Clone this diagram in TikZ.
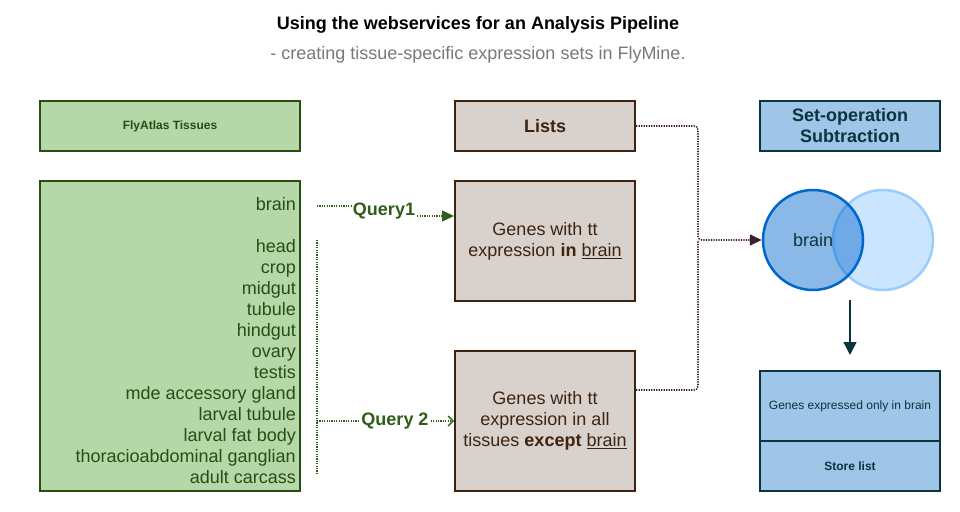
\documentclass[tikz,border=0pt]{standalone}
\usepackage{fontspec}
\setmainfont{Liberation Sans}
\usepackage{xcolor}
\usetikzlibrary{arrows.meta}
\definecolor{atlasfill}{HTML}{B6D7A8}
\definecolor{atlasline}{HTML}{274E13}
\definecolor{queryline}{HTML}{2E5E17}
\definecolor{listfill}{HTML}{D9D2CC}
\definecolor{listline}{HTML}{3E2410}
\definecolor{linkline}{HTML}{3F1F2B}
\definecolor{setfill}{HTML}{9FC5E8}
\definecolor{setline}{HTML}{0C343D}
\definecolor{vennblue}{HTML}{0066CC}
\definecolor{vennlight}{HTML}{CCE5FF}
\definecolor{vennrim}{HTML}{99CCFF}

\begin{document}
\begin{tikzpicture}[x=1pt,y=-1pt]
\tikzstyle{every node}+=[inner sep=0pt]
\tikzstyle{greenbox}=[draw=atlasline,fill=atlasfill,line width=2pt]
\tikzstyle{tissue}=[anchor=base east,text=atlasline,font=\fontsize{18}{21}\selectfont]
\tikzstyle{listbox}=[draw=listline,fill=listfill,line width=2pt,minimum width=180pt,text=listline,align=center,font=\fontsize{18}{21}\selectfont]
\tikzstyle{setbox}=[draw=setline,fill=setfill,line width=2pt,minimum width=180pt,text=setline,align=center]
\tikzstyle{qline}=[queryline,line width=1.4pt,dash pattern=on 1.2pt off 1.2pt]
\tikzstyle{qlabel}=[text=queryline,fill=white,inner sep=2pt,font=\bfseries\fontsize{18}{21}\selectfont]
\tikzstyle{mline}=[linkline,line width=1.6pt,dash pattern=on 1.3pt off 1.2pt,rounded corners=4pt]
\useasboundingbox (0,0) rectangle (960,511);

\node[font=\bfseries\fontsize{18}{21}\selectfont] (title) at (478,25) {Using the webservices for an Analysis Pipeline};
\node[text=black!53,font=\fontsize{18}{21}\selectfont] (subtitle) at (478,55) {- creating tissue-specific expression sets in FlyMine.};

\node[greenbox,minimum width=260pt,minimum height=50pt,text=atlasline,font=\bfseries\fontsize{12}{14}\selectfont] (atlas) at (170,126) {FlyAtlas Tissues};
\node[greenbox,minimum width=260pt,minimum height=310pt] (tissues) at (170,336) {};
\node[tissue] (brain) at (296,210.5) {brain};
\foreach \t [count=\i] in {head,crop,midgut,tubule,hindgut,ovary,testis,mde accessory gland,larval tubule,larval fat body,thoracioabdominal ganglian,adult carcass}
  \node[tissue] (tis\i) at (296,231.5+21*\i) {\t};

\node[listbox,minimum height=50pt,font=\bfseries\fontsize{18}{21}\selectfont] (lists) at (545,126) {Lists};
\node[listbox,minimum height=120pt] (inbrain) at (545,241) {Genes with tt\\expression \textbf{in} \underline{brain}};
\node[listbox,minimum height=140pt] (exbrain) at (545,421) {Genes with tt\\expression in all\\tissues \textbf{except} \underline{brain}};

\node[setbox,minimum height=50pt,font=\bfseries\fontsize{18}{21}\selectfont] (setop) at (850,126) {Set-operation\\Subtraction};
\node[circle,minimum size=100pt,draw=vennrim,fill=vennlight,line width=2.5pt] (other) at (883,240) {};
\node[circle,minimum size=100pt,draw=vennblue,fill=vennblue,fill opacity=0.46,line width=2.5pt,text opacity=1,text=setline,font=\fontsize{18}{21}\selectfont] (venn) at (813,240) {brain};
\node[setbox,minimum height=70pt,font=\fontsize{12}{14}\selectfont] (result) at (850,406) {Genes expressed only in brain};
\node[setbox,minimum height=50pt,font=\bfseries\fontsize{12}{14}\selectfont] (store) at (850,466) {Store list};

\coordinate (q1start) at (317,206);
\node[qlabel] (q1) at (384,211) {Query1};
\draw[qline] (q1start) -- (q1start -| q1.west);
\draw[qline,-{Triangle[length=12pt,width=11pt]}] ([yshift=-5pt]q1.east) -- ([yshift=-5pt]q1.east -| inbrain.west);

\coordinate (q2top) at (317,240);
\coordinate (q2bot) at (317,473);
\draw[qline] (q2top) -- (q2bot);
\node[qlabel] (q2) at (395,421) {Query 2};
\draw[qline] (q2top |- q2) -- (q2.west);
\draw[qline,-{Straight Barb[length=5pt,width=10pt,line width=1.4pt]}] (q2.east) -- (exbrain.west);

\coordinate (join) at (698,240);
\draw[mline,-{Triangle[length=12pt,width=11pt]}] (lists.east) -| (join) -- (venn.west);
\draw[mline] ([yshift=31pt]exbrain.east) -| (join);

\coordinate (dtop) at (850,300);
\coordinate (dbot) at (850,355);
\draw[setline,line width=1.5pt,-{Triangle[length=13pt,width=13pt]}] (dtop) -- (dbot);
\end{tikzpicture}
\end{document}
